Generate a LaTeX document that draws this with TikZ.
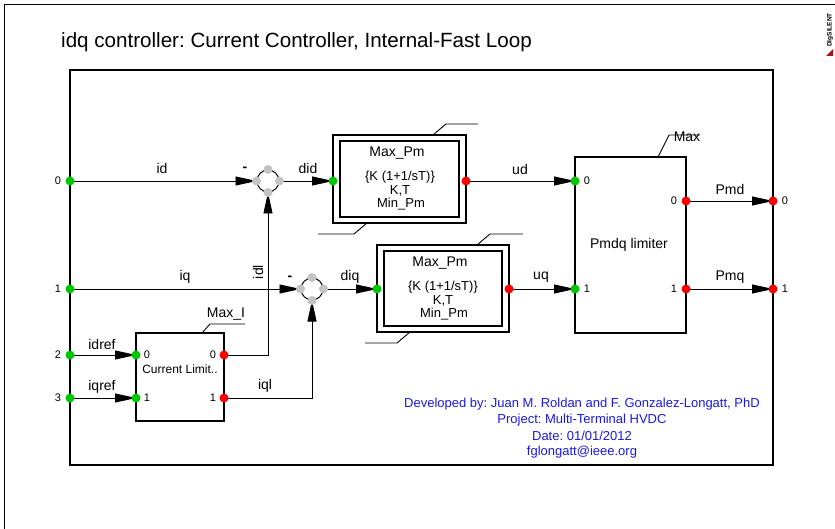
\documentclass[tikz,border=0pt]{standalone}
\usepackage{fontspec}
\setmainfont{Liberation Sans}
\frenchspacing
\usetikzlibrary{arrows.meta}
\definecolor{pgreen}{RGB}{0,200,0}
\definecolor{pred}{RGB}{255,0,0}
\definecolor{pgray}{RGB}{195,195,195}
\definecolor{tblue}{RGB}{25,25,235}
\definecolor{logored}{RGB}{170,20,20}
\begin{document}
\begin{tikzpicture}[x=1pt,y=-1pt,
  sig/.style={draw=black,line width=0.9pt},
  arr/.style={sig,-{Triangle[length=21pt,width=9pt]}},
  frame/.style={draw=black,line width=1.6pt},
  blk/.style={draw=black,line width=1.4pt},
  lbl/.style={font=\fontsize{14}{16}\selectfont,inner sep=0pt},
  plbl/.style={font=\fontsize{13}{15}\selectfont,inner sep=0pt},
  num/.style={font=\fontsize{11}{13}\selectfont,inner sep=0pt},
  inport/.style={circle,fill=pgreen,minimum size=9pt,inner sep=0pt},
  outport/.style={circle,fill=pred,minimum size=9pt,inner sep=0pt},
  gdot/.style={circle,fill=pgray,minimum size=9pt,inner sep=0pt},
  junc/.style={circle,draw=black,line width=1pt,minimum size=22pt,inner sep=0pt},
  minus/.style={font=\bfseries\fontsize{14}{16}\selectfont,inner sep=0pt},
  btxt/.style={font=\fontsize{13}{16}\selectfont,text=tblue,inner sep=0pt}]
\useasboundingbox (0,0) rectangle (835,529);
% outer sheet frame
\draw[line width=1.4pt] (4.5,529) -- (4.5,4.5) -- (835,4.5);
% logo
\node[rotate=90,font=\bfseries\fontsize{6.5}{7}\selectfont,inner sep=0pt] (logo) at (830,30) {DIgSILENT};
\fill[logored] (826,56) -- (833,56) -- (833,49) -- cycle;
% title
\node[anchor=west,font=\fontsize{20.6}{24}\selectfont,inner sep=0pt] (title) at (61,42) {idq controller: Current Controller, Internal-Fast Loop};
% inner frame
\draw[frame] (70,70) rectangle (773,465);

% ---------- coordinates of ports
\coordinate (p0) at (70,181);
\coordinate (p1) at (70,289);
\coordinate (p2) at (70,355);
\coordinate (p3) at (70,398);
\coordinate (q0) at (773,201);
\coordinate (q1) at (773,289);

% ---------- blocks
% PI block 1
\draw[blk] (333,135) rectangle (466,223);
\draw[blk] (340,141) rectangle (459,217);
\draw[sig] (433,135) -- (446,124) -- (478,124);
\draw[sig] (367,223) -- (354,234) -- (318,234);
\node[lbl] (b1max) at (397,153) {Max\_Pm};
\node[plbl] (b1f) at (400,177.5) {\{K (1+1/sT)\}};
\node[plbl] (b1kt) at (400,191) {K,T};
\node[plbl] (b1min) at (401,204) {Min\_Pm};
\coordinate (b1in) at (333,181);
\coordinate (b1out) at (466,181);
% PI block 2
\draw[blk] (377,245) rectangle (509,332);
\draw[blk] (384,251) rectangle (502,326);
\draw[sig] (477,245) -- (490,234) -- (523,234);
\draw[sig] (410,332) -- (397,343) -- (365,343);
\node[lbl] (b2max) at (440,263) {Max\_Pm};
\node[plbl] (b2f) at (443,287.5) {\{K (1+1/sT)\}};
\node[plbl] (b2kt) at (443,301) {K,T};
\node[plbl] (b2min) at (444,314) {Min\_Pm};
\coordinate (b2in) at (377,289);
\coordinate (b2out) at (509,289);
% Pmdq limiter
\draw[blk] (575,157) rectangle (686,333);
\draw[sig] (658,157) -- (669,135) -- (700,135);
\node[lbl] (mx) at (687,137) {Max};
\node[lbl] (pmdq) at (629,245) {Pmdq limiter};
\coordinate (lin0) at (575,181);
\coordinate (lin1) at (575,289);
\coordinate (lout0) at (686,201);
\coordinate (lout1) at (686,289);
\node[num] (ln0) at (587,181) {0};
\node[num] (ln1) at (587,289) {1};
\node[num] (lo0) at (674,201) {0};
\node[num] (lo1) at (674,289) {1};
% Current limiter
\draw[blk] (136,333) rectangle (224,421);
\draw[sig] (202,333) -- (210,324) -- (245,324);
\node[lbl] (maxi) at (226,314) {Max\_I};
\node[font=\fontsize{12}{14}\selectfont,inner sep=0pt] (cl) at (180,369) {Current Limit..};
\coordinate (cin0) at (136,355);
\coordinate (cin1) at (136,398);
\coordinate (cout0) at (224,355);
\coordinate (cout1) at (224,398);
\node[num] (cn0) at (147,355) {0};
\node[num] (cn1) at (147,398) {1};
\node[num] (co0) at (213,355) {0};
\node[num] (co1) at (213,398) {1};

% ---------- summing junctions
\node[junc] (j1) at (268,181) {};
\node[junc] (j2) at (312,289) {};

% ---------- connectors
\draw[arr] (p0) -- (j1.west);
\draw[arr] (j1.east) -- (b1in);
\draw[arr] (cout0) -| (j1.south);
\draw[arr] (p1) -- (j2.west);
\draw[arr] (j2.east) -- (b2in);
\draw[arr] (cout1) -| (j2.south);
\draw[arr] (p2) -- (cin0);
\draw[arr] (p3) -- (cin1);
\draw[arr] (b1out) -- (lin0);
\draw[arr] (b2out) -- (lin1);
\draw[arr] (lout0) -- (q0);
\draw[arr] (lout1) -- (q1);

% junction dots
\foreach \j in {j1,j2}{
  \node[gdot] at (\j.north) {};
  \node[gdot] at (\j.south) {};
  \node[gdot] at (\j.east) {};
  \node[gdot] at (\j.west) {};
}

% ---------- port dots
\foreach \p in {p0,p1,p2,p3,b1in,b2in,lin0,lin1,cin0,cin1}{\node[inport] at (\p) {};}
\foreach \p in {q0,q1,b1out,b2out,lout0,lout1,cout0,cout1}{\node[outport] at (\p) {};}

% port numbers
\node[num] (n0) at (58,181) {0};
\node[num] (n1) at (58,289) {1};
\node[num] (n2) at (58,355) {2};
\node[num] (n3) at (58,398) {3};
\node[num] (m0) at (785,201) {0};
\node[num] (m1) at (785,289) {1};

% ---------- signal labels
\node[lbl] (lid) at (162,168) {id};
\node[lbl] (ldid) at (308,168) {did};
\node[lbl] (liq) at (185,277) {iq};
\node[lbl] (ldiq) at (350,277) {diq};
\node[lbl] (lud) at (520,169) {ud};
\node[lbl] (luq) at (541,277) {uq};
\node[lbl] (lpmd) at (730,189) {Pmd};
\node[lbl] (lpmq) at (730,277) {Pmq};
\node[lbl] (lidref) at (102,344) {idref};
\node[lbl] (liqref) at (102,387) {iqref};
\node[lbl] (liql) at (265,386) {iql};
\node[lbl,rotate=90] (lidl) at (258,272) {idl};
\node[minus] (m1s) at (245,169.5) {-};
\node[minus] (m2s) at (290,278.5) {-};

% ---------- credits
\node[btxt] (c1) at (582,404) {Developed by: Juan M. Roldan and F. Gonzalez-Longatt, PhD};
\node[btxt] (c2) at (582,420) {Project: Multi-Terminal HVDC};
\node[btxt] (c3) at (582,436) {Date: 01/01/2012};
\node[btxt] (c4) at (582,452) {fglongatt@ieee.org};
\end{tikzpicture}
\end{document}
